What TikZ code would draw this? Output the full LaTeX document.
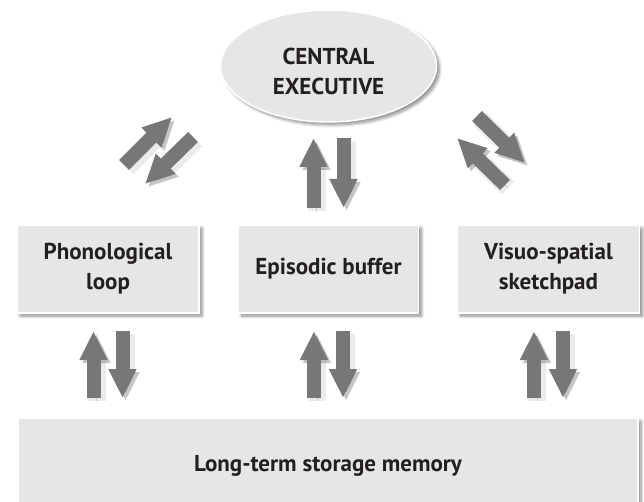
\documentclass[tikz,border=0pt]{standalone}
\usepackage{fontspec}
\setmainfont{PT Sans}
\usetikzlibrary{arrows.meta,shapes.geometric,shadows.blur}
\definecolor{boxgray}{HTML}{E6E6E6}
\definecolor{arrowgray}{HTML}{777777}
\definecolor{ink}{HTML}{231F20}
\begin{document}
\begin{tikzpicture}[x=1pt,y=-1pt,
  softshadow/.style={blur shadow={shadow xshift=3pt, shadow yshift=-3pt,
      shadow blur steps=8, shadow blur radius=3pt, shadow opacity=45}},
  labeltext/.style={text=ink, font=\bfseries\fontsize{23}{30}\selectfont, align=center},
  compbox/.style={rectangle, fill=boxgray, draw=white, line width=1.5pt,
      inner sep=0pt, softshadow, labeltext},
  execnode/.style={ellipse, fill=boxgray, draw=white, line width=1.5pt,
      inner sep=0pt, softshadow, labeltext},
  blockarrow/.style={draw=arrowgray, line width=14pt, line cap=butt,
      -{Triangle[width=26pt,length=29pt]},
      preaction={draw=black, opacity=0.08, line width=18pt,
        transform canvas={xshift=3pt,yshift=-3pt}},
      preaction={draw=black, opacity=0.16,
        transform canvas={xshift=3pt,yshift=-3pt}}}]
  \useasboundingbox (0,0) rectangle (644,502);
  \clip (0,0) rectangle (644,502);

  % components
  \node[execnode, minimum width=216, minimum height=112] (ce) at (328.5,66) {};
  \node[labeltext] at (328.5,71) {CENTRAL\\EXECUTIVE};
  \node[compbox, minimum width=182, minimum height=88] (pl) at (108,269)
    {Phonological\\loop};
  \node[compbox, minimum width=180, minimum height=88] (eb) at (328.5,269)
    {Episodic buffer};
  \node[compbox, minimum width=182, minimum height=88] (vs) at (548.5,269)
    {Visuo-spatial\\sketchpad};
  \node[compbox, minimum width=620, minimum height=96] (lt) at (328,466)
    {Long-term storage memory};

  % arrow end points
  \coordinate (a1s) at (124,165);   \coordinate (a1e) at (172,117);
  \coordinate (a2s) at (193,137);   \coordinate (a2e) at (145,184);
  \coordinate (a3s) at (313.5,208); \coordinate (a3e) at (313.5,138);
  \coordinate (a4s) at (343.5,138); \coordinate (a4e) at (343.5,208);
  \coordinate (a5s) at (477,116);   \coordinate (a5e) at (525,163);
  \coordinate (a6s) at (505,185);   \coordinate (a6e) at (457,138);
  \coordinate (b1s) at (93.5,398);  \coordinate (b1e) at (93.5,331);
  \coordinate (b2s) at (122.5,331); \coordinate (b2e) at (122.5,398);
  \coordinate (b3s) at (314,398);   \coordinate (b3e) at (314,331);
  \coordinate (b4s) at (343,331);   \coordinate (b4e) at (343,398);
  \coordinate (b5s) at (534,398);   \coordinate (b5e) at (534,331);
  \coordinate (b6s) at (563,331);   \coordinate (b6e) at (563,398);

  % two-way flows
  \foreach \s/\e in {a1s/a1e,a2s/a2e,a3s/a3e,a4s/a4e,a5s/a5e,a6s/a6e,
                     b1s/b1e,b2s/b2e,b3s/b3e,b4s/b4e,b5s/b5e,b6s/b6e}
    \draw[blockarrow] (\s) -- (\e);
\end{tikzpicture}
\end{document}
